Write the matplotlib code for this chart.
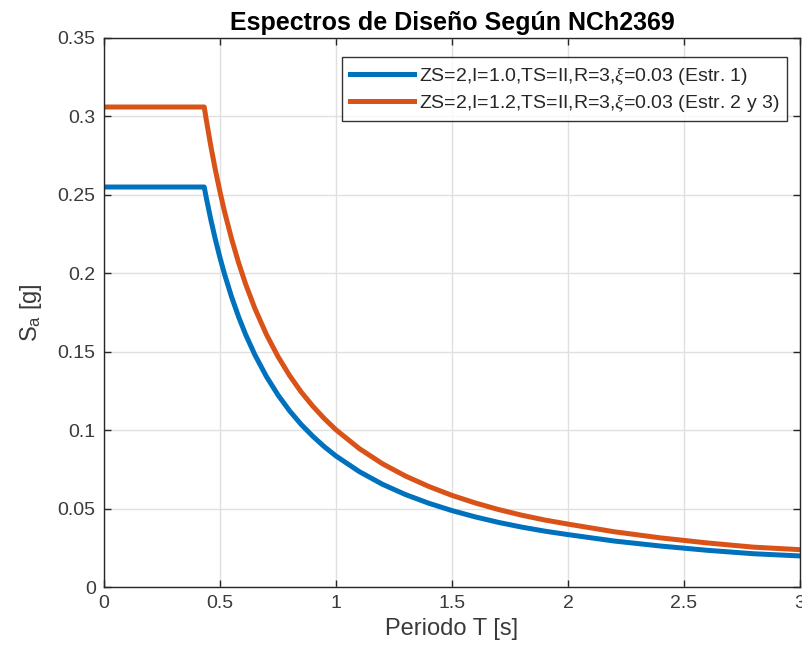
import numpy as np
import matplotlib
matplotlib.use("Agg")
import matplotlib.pyplot as plt

periodo = [0.0, 0.432, 0.44, 0.46, 0.48, 0.50, 0.52, 0.55, 0.58, 0.61, 0.65, 0.70,
           0.75, 0.80, 0.85, 0.90, 0.95, 1.0, 1.1, 1.2, 1.3, 1.4, 1.5, 1.6, 1.7,
           1.8, 1.9, 2.0, 2.2, 2.4, 2.6, 2.8, 3.0]
sa_estr1 = [0.255, 0.255, 0.2488, 0.2345, 0.2216, 0.2099, 0.1992, 0.1849, 0.1723,
            0.1611, 0.1481, 0.1342, 0.1224, 0.1123, 0.1036, 0.0961, 0.0894, 0.0835,
            0.0736, 0.0655, 0.0589, 0.0534, 0.0487, 0.0447, 0.0412, 0.0382, 0.0356,
            0.0334, 0.0293, 0.0261, 0.0234, 0.0212, 0.0198]
sa_estr23 = [0.306, 0.306, 0.2986, 0.2814, 0.2659, 0.2519, 0.2390, 0.2219, 0.2068,
             0.1933, 0.1777, 0.1610, 0.1469, 0.1348, 0.1243, 0.1153, 0.1073, 0.1002,
             0.0883, 0.0786, 0.0707, 0.0641, 0.0584, 0.0536, 0.0494, 0.0458, 0.0427,
             0.0401, 0.0352, 0.0313, 0.0281, 0.0254, 0.0238]

etiquetas = [r'ZS=2,I=1.0,TS=II,R=3,$\xi$=0.03 (Estr. 1)',
             r'ZS=2,I=1.2,TS=II,R=3,$\xi$=0.03 (Estr. 2 y 3)']
cor = ["#0072BD", "#D95319"]
cinza = "#262626"

plt.rcParams['font.family'] = ['Liberation Sans', 'DejaVu Sans']
plt.rcParams['mathtext.fontset'] = 'custom'
plt.rcParams['mathtext.rm'] = 'Liberation Sans'
plt.rcParams['mathtext.it'] = 'Liberation Serif:italic'

fig = plt.figure(figsize=(8.02, 6.62), dpi=100)
ax = fig.add_axes([104 / 802, 75 / 662, 696 / 802, 549 / 662])

ax.plot(periodo, sa_estr1, color=cor[0], lw=3.6, label=etiquetas[0])
ax.plot(periodo, sa_estr23, color=cor[1], lw=3.6, label=etiquetas[1])

ax.set_xlim(0, 3)
ax.set_ylim(0, 0.35)
ax.set_xticks(np.arange(0, 3.01, 0.5))
ax.set_yticks(np.arange(0, 0.351, 0.05))
ax.set_xticklabels(['0', '0.5', '1', '1.5', '2', '2.5', '3'])
ax.set_yticklabels(['0', '0.05', '0.1', '0.15', '0.2', '0.25', '0.3', '0.35'])

ax.grid(True, color='#e0e0e0', lw=1)
ax.set_axisbelow(True)
ax.tick_params(direction='in', top=True, right=True, length=5, width=1,
               colors=cinza, labelsize=14, pad=6)
ax.tick_params(labelcolor='#3a3a3a')
for s in ax.spines.values():
    s.set_color(cinza)
    s.set_linewidth(1)

ax.set_xlabel('Periodo T [s]', fontsize=17, color='#3a3a3a', labelpad=4)
ax.set_ylabel(r'S$_\mathregular{a}$ [g]', fontsize=17, color='#3a3a3a', labelpad=10)
ax.set_title('Espectros de Diseño Según NCh2369', fontsize=18, fontweight='bold',
             color='black', pad=6)

leg = ax.legend(loc='upper right', bbox_to_anchor=(0.9813, 0.9654), borderaxespad=0,
                fontsize=14, handlelength=3.3, frameon=True, fancybox=False,
                labelspacing=0.25, handletextpad=0.25, borderpad=0.4)
leg.get_frame().set_edgecolor('black')
leg.get_frame().set_linewidth(1)
for t in leg.get_texts():
    t.set_color(cinza)

plt.savefig('out.png', dpi=100)
